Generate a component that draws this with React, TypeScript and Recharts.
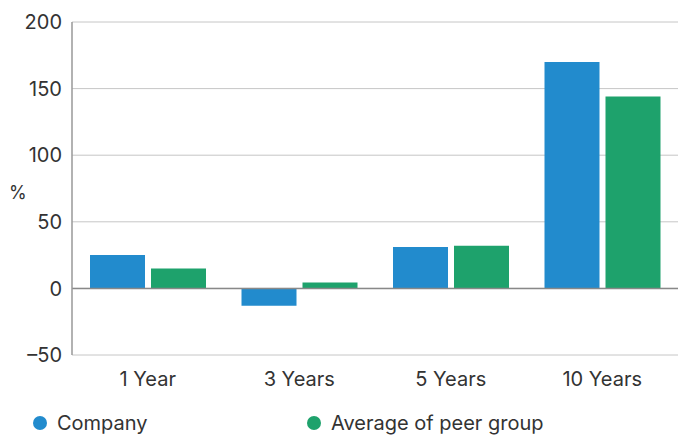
import React from 'react';
import {
  BarChart,
  Bar,
  XAxis,
  YAxis,
  CartesianGrid,
  ReferenceLine,
  Legend,
} from 'recharts';

// Total shareholder return over several horizons, in percent
const periods = ['1 Year', '3 Years', '5 Years', '10 Years'];
const companyReturn = [25, -13, 31, 170];
const peerAverageReturn = [15, 4.5, 32, 144];
const yTicks = [-50, 0, 50, 100, 150, 200];

const seriesNames = { company: 'Company', peer: 'Average of peer group' };
const COLORS = { company: '#228BCD', peer: '#1EA26C' };

const data = periods.map((period, i) => ({
  period,
  company: companyReturn[i],
  peer: peerAverageReturn[i],
}));

const FONT = 'Inter, "Liberation Sans", Arial, sans-serif';

const formatTick = (v: number) => (v < 0 ? `\u2013${Math.abs(v)}` : `${v}`);

const LegendContent = () => (
  <div style={{ display: 'flex', fontFamily: FONT, fontSize: 20, lineHeight: '22px', color: '#333' }}>
    {(['company', 'peer'] as const).map((key) => (
      <div key={key} style={{ display: 'flex', alignItems: 'center', width: 274 }}>
        <span
          style={{
            display: 'inline-block',
            width: 14,
            height: 14,
            borderRadius: 7,
            background: COLORS[key],
            marginRight: 10,
          }}
        />
        <span>{seriesNames[key]}</span>
      </div>
    ))}
  </div>
);

export default function App() {
  return (
    <div style={{ position: 'absolute', left: 0, top: 0, width: 678, height: 435, overflow: 'hidden', background: '#fff' }}>
      <BarChart
        width={678}
        height={435}
        data={data}
        margin={{ top: 22, right: 0, bottom: 40, left: 0 }}
        barGap={6}
        barCategoryGap={18}
      >
        <CartesianGrid vertical={false} stroke="#c6c6c6" strokeWidth={1} />
        <XAxis
          dataKey="period"
          axisLine={false}
          tickLine={false}
          tickSize={0}
          tickMargin={17}
          height={40}
          tick={{ fill: '#333', fontSize: 20, fontFamily: FONT }}
        />
        <YAxis
          width={72}
          domain={[-50, 200]}
          ticks={yTicks}
          interval={0}
          tickFormatter={formatTick}
          axisLine={{ stroke: '#999', strokeWidth: 1.5 }}
          tickLine={false}
          tickSize={0}
          tickMargin={10}
          tick={{ fill: '#333', fontSize: 20, fontFamily: FONT }}
          label={{
            value: '%',
            position: 'insideLeft',
            offset: 9,
            dy: 4,
            fill: '#333',
            fontSize: 18,
            fontFamily: FONT,
          }}
        />
        <ReferenceLine y={0} stroke="#888" strokeWidth={1.5} />
        <Bar dataKey="company" name={seriesNames.company} fill={COLORS.company} isAnimationActive={false} />
        <Bar dataKey="peer" name={seriesNames.peer} fill={COLORS.peer} isAnimationActive={false} />
        <Legend
          layout="horizontal"
          verticalAlign="middle"
          align="center"
          content={<LegendContent />}
          wrapperStyle={{ position: 'absolute', top: 412, left: 33, width: 600 }}
        />
      </BarChart>
    </div>
  );
}
